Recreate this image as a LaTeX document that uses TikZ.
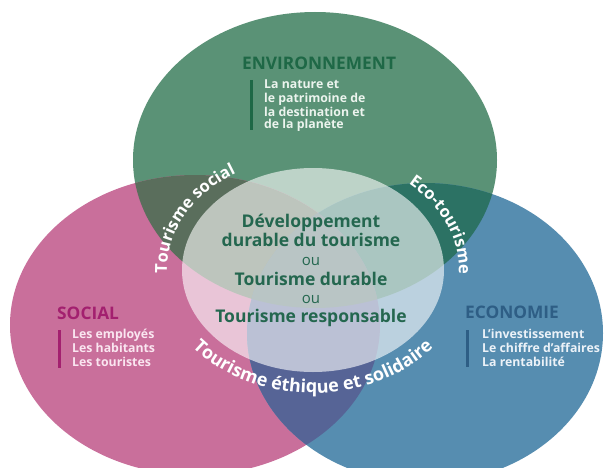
\documentclass[tikz,border=0pt]{standalone}
\usepackage{fontspec}
\setmainfont{Open Sans}
\usetikzlibrary{decorations.text}
\definecolor{cG}{RGB}{90,146,118}
\definecolor{cP}{RGB}{201,111,155}
\definecolor{cB}{RGB}{86,141,176}
\definecolor{cGP}{RGB}{90,110,92}
\definecolor{cGB}{RGB}{44,114,100}
\definecolor{cPB}{RGB}{86,100,150}
\definecolor{cGPB}{RGB}{80,112,112}
\definecolor{envhead}{RGB}{30,104,70}
\definecolor{sochead}{RGB}{163,32,111}
\definecolor{ecohead}{RGB}{46,94,133}
\definecolor{ctext}{RGB}{36,103,79}
\definecolor{envbody}{RGB}{236,244,238}
\definecolor{socbody}{RGB}{250,230,240}
\definecolor{ecobody}{RGB}{236,242,248}
\newcommand\curvefont{\fontsize{16.5}{16.5}\selectfont\bfseries}
\newcommand\curvefontbig{\fontsize{18}{18}\selectfont\bfseries}
\begin{document}
\begin{tikzpicture}[x=1pt,y=1pt,
  head/.style={font=\fontsize{17.3}{17}\selectfont\bfseries, anchor=base west, inner sep=0},
  body/.style={font=\fontsize{12.3}{13}\selectfont\bfseries, anchor=base west, inner sep=0},
  ctr/.style={font=\fontsize{17.5}{18}\selectfont\bfseries, text=ctext, anchor=base, inner sep=0},
  ou/.style={font=\fontsize{15}{15}\selectfont, text=ctext, anchor=base, inner sep=0},
  bar/.style={line width=3pt},
  curve/.style={decorate, decoration={text along path, text align=center, text color=white, text={|\curvefont|#1}}},
  curvebig/.style={decorate, decoration={text along path, text align=center, text color=white, text={|\curvefontbig|#1}}}
]
\useasboundingbox (0,0) rectangle (605,467);
\clip (0,0) rectangle (605,467);
\fill[white] (0,0) rectangle (605,467);
% circles
\fill[cG] (315,307) ellipse [x radius=182pt, y radius=148pt];
\fill[cP] (195,142) ellipse [x radius=185pt, y radius=150pt];
\fill[cB] (425,134) ellipse [x radius=178pt, y radius=150pt];
\begin{scope}
  \clip (315,307) ellipse [x radius=182pt, y radius=148pt];
  \fill[cGP] (195,142) ellipse [x radius=185pt, y radius=150pt];
  \fill[cGB] (425,134) ellipse [x radius=178pt, y radius=150pt];
\end{scope}
\begin{scope}
  \clip (195,142) ellipse [x radius=185pt, y radius=150pt];
  \fill[cPB] (425,134) ellipse [x radius=178pt, y radius=150pt];
\end{scope}
\begin{scope}
  \clip (315,307) ellipse [x radius=182pt, y radius=148pt];
  \clip (195,142) ellipse [x radius=185pt, y radius=150pt];
  \fill[cGPB] (425,134) ellipse [x radius=178pt, y radius=150pt];
\end{scope}
\fill[white, fill opacity=0.6] (313,197) ellipse [x radius=131pt, y radius=102pt];
% curved labels
\path[shift={(313,197)}, curve={Tourisme social}] (185:146pt and 114pt) arc[start angle=185, end angle=119, x radius=146pt, y radius=114pt];
\path[shift={(313,197)}, curve={Eco-tourisme}] (50:146pt and 114pt) arc[start angle=50, end angle=-3, x radius=146pt, y radius=114pt];
\path[shift={(313,197)}, curvebig={Tourisme éthique et solidaire}] (200:155pt and 123pt) arc[start angle=200, end angle=340, x radius=155pt, y radius=123pt];
% environnement
\node[head, text=envhead] (envh) at (242,397) {ENVIRONNEMENT};
\coordinate (envb1) at (251.5,387);
\coordinate (envb2) at (251.5,337);
\draw[bar, envhead] (envb1) -- (envb2);
\node[body, text=envbody] (env1) at (264,378) {La nature et};
\node[body, text=envbody] (env2) at (264,365) {le patrimoine de};
\node[body, text=envbody] (env3) at (264,351) {la destination et};
\node[body, text=envbody] (env4) at (264,338) {de la planète};
% social
\node[head, text=sochead] (soch) at (57,148) {SOCIAL};
\coordinate (socb1) at (59,137);
\coordinate (socb2) at (59,99);
\draw[bar, sochead] (socb1) -- (socb2);
\node[body, text=socbody] (soc1) at (72,129) {Les employés};
\node[body, text=socbody] (soc2) at (72,115) {Les habitants};
\node[body, text=socbody] (soc3) at (72,101) {Les touristes};
% economie
\node[head, text=ecohead] (ecoh) at (465,149) {ECONOMIE};
\coordinate (ecob1) at (467,137);
\coordinate (ecob2) at (467,100);
\draw[bar, ecohead] (ecob1) -- (ecob2);
\node[body, text=ecobody] (eco1) at (482,129) {L'investissement};
\node[body, text=ecobody] (eco2) at (482,115) {Le chiffre d'affaires};
\node[body, text=ecobody] (eco3) at (482,101) {La rentabilité};
% centre
\node[ctr] (c1) at (311,240) {Développement};
\node[ctr] (c2) at (311,221) {durable du tourisme};
\node[ou] (c3) at (311,202) {ou};
\node[ctr] (c4) at (311,182) {Tourisme durable};
\node[ou] (c5) at (311,164) {ou};
\node[ctr] (c6) at (311,145) {Tourisme responsable};
\end{tikzpicture}
\end{document}
